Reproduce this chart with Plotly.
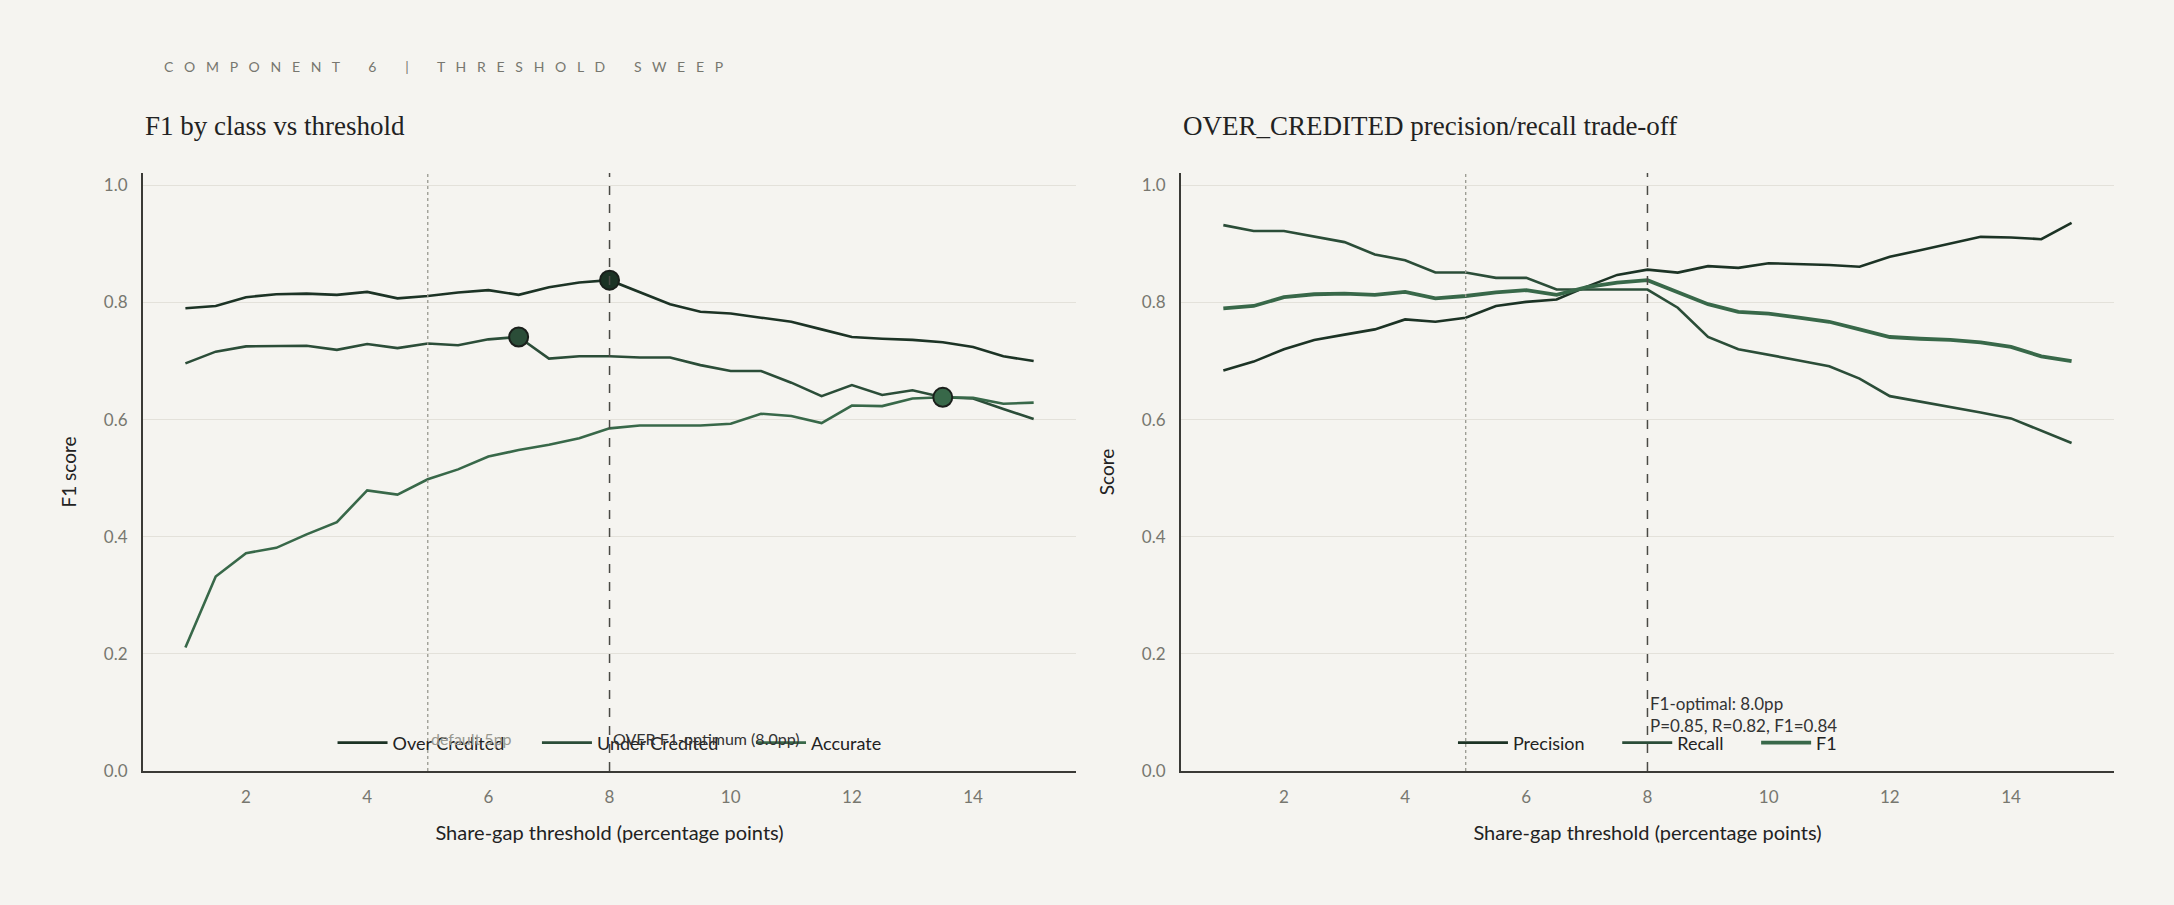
import plotly.graph_objects as go

thresholds = [1 + 0.5 * i for i in range(29)]

over_f1 = [0.790, 0.794, 0.809, 0.814, 0.815, 0.813, 0.818, 0.807, 0.811, 0.817,
           0.821, 0.813, 0.826, 0.834, 0.838, 0.818, 0.797, 0.784, 0.781, 0.774,
           0.767, 0.754, 0.741, 0.738, 0.736, 0.732, 0.724, 0.708, 0.700]
under_f1 = [0.696, 0.716, 0.725, 0.726, 0.726, 0.719, 0.729, 0.722, 0.730, 0.727,
            0.737, 0.741, 0.704, 0.708, 0.708, 0.706, 0.706, 0.693, 0.683, 0.683,
            0.663, 0.640, 0.659, 0.642, 0.650, 0.638, 0.636, 0.618, 0.601]
accurate_f1 = [0.211, 0.332, 0.372, 0.381, 0.404, 0.425, 0.479, 0.472, 0.498, 0.515,
               0.537, 0.548, 0.557, 0.568, 0.585, 0.590, 0.590, 0.590, 0.593, 0.610,
               0.606, 0.594, 0.624, 0.623, 0.636, 0.638, 0.637, 0.627, 0.629]
precision = [0.684, 0.699, 0.720, 0.736, 0.745, 0.754, 0.771, 0.767, 0.774, 0.794,
             0.801, 0.805, 0.827, 0.847, 0.856, 0.851, 0.862, 0.859, 0.867, 0.866,
             0.864, 0.861, 0.878, 0.889, 0.901, 0.912, 0.911, 0.908, 0.936]
recall = [0.932, 0.922, 0.922, 0.912, 0.903, 0.882, 0.872, 0.851, 0.851, 0.842,
          0.842, 0.822, 0.822, 0.822, 0.822, 0.791, 0.741, 0.720, 0.711, 0.701,
          0.691, 0.670, 0.640, 0.631, 0.622, 0.612, 0.602, 0.581, 0.560]

class_names = ["Over Credited", "Under Credited", "Accurate"]
class_values = [over_f1, under_f1, accurate_f1]
class_colors = ["#1c3325", "#2b4d38", "#386849"]

default_threshold = 5
optimum_threshold = 8
y_ticks = [0.0, 0.2, 0.4, 0.6, 0.8, 1.0]
x_ticks = [2, 4, 6, 8, 10, 12, 14]

BG = "#f5f4f0"
SANS = "Lato, 'Open Sans', sans-serif"
SERIF = "'Liberation Serif', 'DejaVu Serif', serif"
PAD = "&nbsp;" * 6

def spaced(text):
    words = text.split(" ")
    return ("&nbsp;" * 8).join("&nbsp;&nbsp;&nbsp;".join(w) for w in words)

fig = go.Figure()

# Left panel
for k, (name, vals, col) in enumerate(zip(class_names, class_values, class_colors)):
    label = name + (PAD if k < len(class_names) - 1 else "")
    fig.add_trace(go.Scatter(x=thresholds, y=vals, mode="lines", name=label,
                             line=dict(color=col, width=2.6),
                             xaxis="x", yaxis="y", legend="legend"))
for name, vals, col in zip(class_names, class_values, class_colors):
    i = max(range(len(vals)), key=lambda k: vals[k])
    fig.add_trace(go.Scatter(x=[thresholds[i]], y=[vals[i]], mode="markers",
                             marker=dict(size=19, color=col, line=dict(color="#1a1f1b", width=2)),
                             showlegend=False, xaxis="x", yaxis="y"))

# Right panel
fig.add_trace(go.Scatter(x=thresholds, y=precision, mode="lines", name="Precision" + PAD,
                         line=dict(color=class_colors[0], width=2.6), xaxis="x2", yaxis="y2", legend="legend2"))
fig.add_trace(go.Scatter(x=thresholds, y=recall, mode="lines", name="Recall" + PAD,
                         line=dict(color=class_colors[1], width=2.6), xaxis="x2", yaxis="y2", legend="legend2"))
fig.add_trace(go.Scatter(x=thresholds, y=over_f1, mode="lines", name="F1",
                         line=dict(color=class_colors[2], width=3.8), xaxis="x2", yaxis="y2", legend="legend2"))

shapes = []
for xr, yr in [("x", "y domain"), ("x2", "y2 domain")]:
    shapes.append(dict(type="line", xref=xr, yref=yr, x0=default_threshold, x1=default_threshold,
                       y0=0, y1=1, line=dict(color="#999990", width=1.3, dash="dot")))
    shapes.append(dict(type="line", xref=xr, yref=yr, x0=optimum_threshold, x1=optimum_threshold,
                       y0=0, y1=1, line=dict(color="#4a4a45", width=1.5, dash="dash")))

annotations = [
    dict(text=spaced("COMPONENT 6 | THRESHOLD SWEEP"),
         xref="paper", yref="paper", x=0.0096, y=1.0, xanchor="left", yanchor="middle",
         yshift=107, showarrow=False, font=dict(family=SANS, size=14, color="#77776f")),
    dict(text="F1 by class vs threshold", xref="x domain", yref="paper", x=0, y=1,
         xanchor="left", yanchor="middle", yshift=47, showarrow=False,
         font=dict(family=SERIF, size=27, color="#222222")),
    dict(text="OVER_CREDITED precision/recall trade-off", xref="x2 domain", yref="paper", x=0, y=1,
         xanchor="left", yanchor="middle", yshift=47, showarrow=False,
         font=dict(family=SERIF, size=27, color="#222222")),
    dict(text="default 5pp", xref="x", yref="y", x=default_threshold, y=0.055,
         xanchor="left", yanchor="middle", showarrow=False, xshift=1,
         font=dict(family=SANS, size=16, color="#999990")),
    dict(text="OVER F1-optimum (8.0pp)", xref="x", yref="y", x=optimum_threshold, y=0.055,
         xanchor="left", yanchor="middle", showarrow=False, xshift=1,
         font=dict(family=SANS, size=16, color="#333333")),
    dict(text="F1-optimal: 8.0pp<br>P=0.85, R=0.82, F1=0.84", xref="x2", yref="y2",
         x=optimum_threshold, y=0.056, xanchor="left", yanchor="bottom", align="left",
         showarrow=False, xshift=1,
         font=dict(family=SANS, size=17, color="#333333")),
]

def xaxis(domain, anchor):
    return dict(domain=domain, anchor=anchor, range=[0.3, 15.7], tickvals=x_ticks,
                showgrid=False, zeroline=False, showline=True, linecolor="#3a3a36", linewidth=2,
                ticks="", ticklabelstandoff=10,
                tickfont=dict(family=SANS, size=17, color="#77776f"),
                title=dict(text="Share-gap threshold (percentage points)", standoff=20,
                           font=dict(family=SANS, size=20, color="#222222")))

def yaxis(anchor, title):
    return dict(anchor=anchor, range=[0, 1.021], tickvals=y_ticks, tickformat=".1f",
                showgrid=True, gridcolor="#e3e1da", gridwidth=1, zeroline=False,
                showline=True, linecolor="#3a3a36", linewidth=2, ticks="", ticklabelstandoff=10,
                tickfont=dict(family=SANS, size=17, color="#77776f"),
                title=dict(text=title, standoff=22, font=dict(family=SANS, size=19, color="#222222")))

fig.update_layout(
    width=2174, height=905,
    paper_bgcolor=BG, plot_bgcolor=BG,
    margin=dict(l=143, r=60, t=173, b=134),
    xaxis=xaxis([0, 0.4734], "y"),
    yaxis=yaxis("x", "F1 score"),
    xaxis2=xaxis([0.5266, 1], "y2"),
    yaxis2=yaxis("x2", "Score"),
    shapes=shapes,
    annotations=annotations,
    legend=dict(orientation="h", x=0.2367, xanchor="center", y=0.047, yanchor="middle",
                bgcolor="rgba(0,0,0,0)", font=dict(family=SANS, size=18, color="#222222"),
                itemwidth=50),
    legend2=dict(orientation="h", x=0.7633, xanchor="center", y=0.047, yanchor="middle",
                 bgcolor="rgba(0,0,0,0)", font=dict(family=SANS, size=18, color="#222222"),
                 itemwidth=50),
    showlegend=True,
    font=dict(family=SANS),
)

fig.write_html("out.html")
